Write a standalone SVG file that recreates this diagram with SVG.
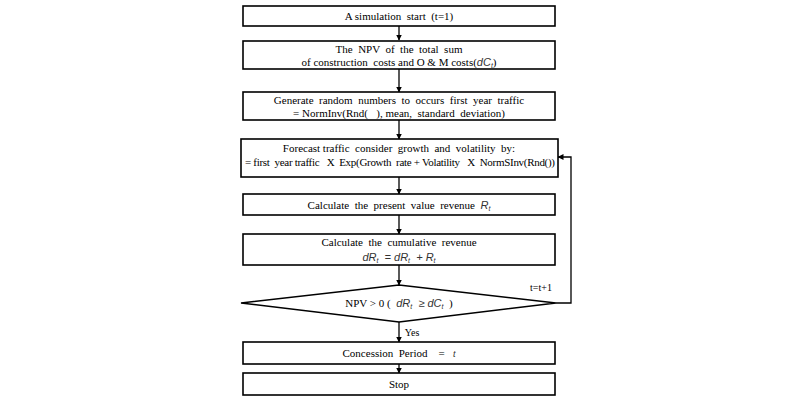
<svg xmlns="http://www.w3.org/2000/svg" width="810" height="403" viewBox="0 0 810 403">
<style>
.b{fill:#fff;stroke:#000;stroke-width:1.6}
.t{font-family:"Liberation Serif","Times New Roman",serif;font-size:11px;fill:#000;text-anchor:middle;white-space:pre}
.m{font-family:"Liberation Sans",Arial,sans-serif;font-style:italic;font-size:11px;fill:#333}
.s{font-size:7px}
.c{stroke:#000;stroke-width:1.3;fill:none}
</style>
<defs>
<marker id="ah" markerWidth="6" markerHeight="6" refX="5.5" refY="3" orient="auto" markerUnits="userSpaceOnUse">
<path d="M0,0 L6,3 L0,6 Z" fill="#000"/>
</marker>
</defs>
<rect width="810" height="403" fill="#fff"/>
<g id="connectors">
<line class="c" x1="399" y1="26" x2="399" y2="40" marker-end="url(#ah)"/>
<line class="c" x1="399" y1="69" x2="399" y2="92" marker-end="url(#ah)"/>
<line class="c" x1="399" y1="120" x2="399" y2="139" marker-end="url(#ah)"/>
<line class="c" x1="399" y1="177" x2="399" y2="194" marker-end="url(#ah)"/>
<line class="c" x1="399" y1="215" x2="399" y2="234" marker-end="url(#ah)"/>
<line class="c" x1="399" y1="265" x2="399" y2="285" marker-end="url(#ah)"/>
<line class="c" x1="399" y1="322" x2="399" y2="342" marker-end="url(#ah)"/>
<line class="c" x1="399" y1="364" x2="399" y2="373" marker-end="url(#ah)"/>
<polyline class="c" points="556,303 571,303 571,157 558,157" marker-end="url(#ah)"/>
<text class="t" x="541" y="291" style="font-size:10px">t=t+1</text>
<text class="t" x="412" y="336" style="font-size:10px">Yes</text>
</g>
<g id="n1">
<rect class="b" x="243" y="6" width="312" height="20"/>
<text class="t" x="399" y="20">A simulation  start  (t=1)</text>
</g>
<g id="n2">
<rect class="b" x="243" y="41" width="312" height="28"/>
<text class="t" x="399" y="53">The  NPV  of  the  total  sum</text>
<text class="t" x="399" y="66">of construction  costs and O &amp; M costs(<tspan class="m">dC</tspan><tspan class="m s" dy="2">t</tspan><tspan dy="-2">)</tspan></text>
</g>
<g id="n3">
<rect class="b" x="243" y="92" width="312" height="28"/>
<text class="t" x="399" y="104">Generate  random  numbers  to  occurs  first  year  traffic</text>
<text class="t" x="399" y="117">= NormInv(Rnd(   ), mean,  standard  deviation)</text>
</g>
<g id="n4">
<rect class="b" x="241" y="139" width="317" height="38"/>
<text class="t" x="399" y="152">Forecast traffic  consider  growth  and  volatility  by:</text>
<text class="t" x="400" y="166" textLength="310" lengthAdjust="spacing">= first  year traffic   X  Exp(Growth  rate + Volatility   X  NormSInv(Rnd())</text>
</g>
<g id="n5">
<rect class="b" x="243" y="194" width="312" height="21"/>
<text class="t" x="399" y="209">Calculate  the  present  value  revenue  <tspan class="m">R</tspan><tspan class="m s" dy="2">t</tspan></text>
</g>
<g id="n6">
<rect class="b" x="243" y="234" width="312" height="31"/>
<text class="t" x="399" y="246">Calculate  the  cumulative  revenue</text>
<text class="t" x="399" y="261"><tspan class="m">dR</tspan><tspan class="m s" dy="2">t</tspan><tspan class="m" dy="-2">  = dR</tspan><tspan class="m s" dy="2">t</tspan><tspan class="m" dy="-2">  + R</tspan><tspan class="m s" dy="2">t</tspan></text>
</g>
<g id="n7">
<polygon class="b" points="241,303 399,285 556,303 399,322"/>
<text class="t" x="399" y="307">NPV &gt; 0 (  <tspan class="m">dR</tspan><tspan class="m s" dy="2">t</tspan><tspan class="m" dy="-2">  ≥ dC</tspan><tspan class="m s" dy="2">t</tspan><tspan dy="-2">  )</tspan></text>
</g>
<g id="n8">
<rect class="b" x="243" y="342" width="312" height="22"/>
<text class="t" x="399" y="357">Concession  Period    =   <tspan class="m" style="font-size:9px">t</tspan></text>
</g>
<g id="n9">
<rect class="b" x="243" y="373" width="312" height="22"/>
<text class="t" x="399" y="388">Stop</text>
</g>
</svg>
